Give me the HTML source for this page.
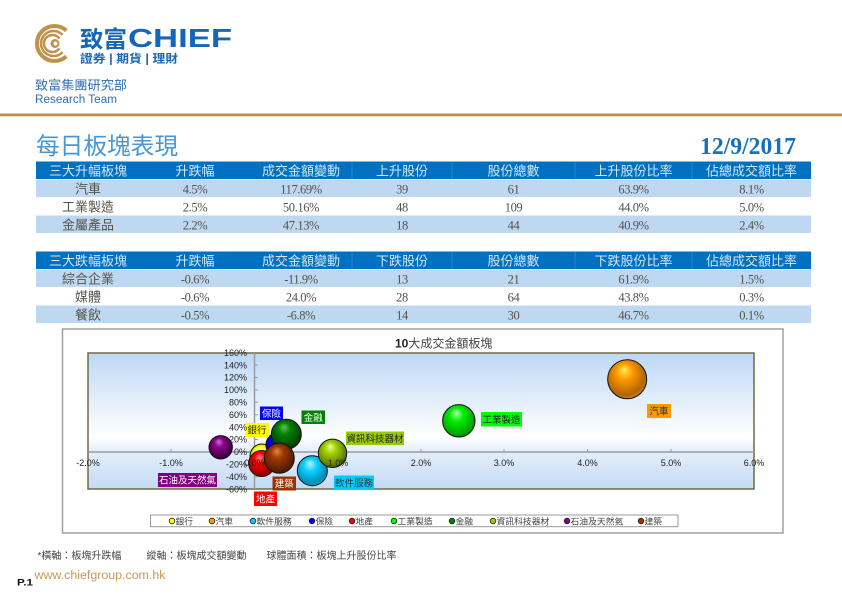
<!DOCTYPE html>
<html><head><meta charset="utf-8"><style>
html,body{margin:0;padding:0;background:#fff;}
svg{display:block;}
.cjk{font-family:"Liberation Sans","Noto Sans CJK TC",sans-serif;}
.ser{font-family:"Liberation Serif","Noto Sans CJK TC",serif;}
.sans{font-family:"Liberation Sans",sans-serif;}
</style></head><body>
<svg width="842" height="595" viewBox="0 0 842 595" xmlns="http://www.w3.org/2000/svg">
<defs>
<linearGradient id="bg" x1="0" y1="0" x2="0" y2="1">
<stop offset="0" stop-color="#bcd8f5"/><stop offset="0.62" stop-color="#ffffff"/><stop offset="0.72" stop-color="#e4eefb"/><stop offset="1" stop-color="#c3dbf5"/>
</linearGradient>
<radialGradient id="gY" cx="0.45" cy="0.42" r="0.6" fx="0.42" fy="0.25"><stop offset="0" stop-color="#ffffb0"/><stop offset="0.35" stop-color="#ffff00"/><stop offset="0.85" stop-color="#b0a800"/><stop offset="1" stop-color="#807800"/></radialGradient>
<radialGradient id="gO" cx="0.45" cy="0.42" r="0.6" fx="0.42" fy="0.25"><stop offset="0" stop-color="#ffee55"/><stop offset="0.35" stop-color="#ff9900"/><stop offset="0.85" stop-color="#b06400"/><stop offset="1" stop-color="#c88030"/></radialGradient>
<radialGradient id="gC" cx="0.45" cy="0.42" r="0.6" fx="0.42" fy="0.25"><stop offset="0" stop-color="#b8f6ff"/><stop offset="0.35" stop-color="#10d0ff"/><stop offset="0.85" stop-color="#0090b8"/><stop offset="1" stop-color="#20a0c8"/></radialGradient>
<radialGradient id="gB" cx="0.45" cy="0.42" r="0.6" fx="0.42" fy="0.25"><stop offset="0" stop-color="#8080ff"/><stop offset="0.35" stop-color="#0000ff"/><stop offset="0.85" stop-color="#000098"/><stop offset="1" stop-color="#000070"/></radialGradient>
<radialGradient id="gR" cx="0.45" cy="0.42" r="0.6" fx="0.42" fy="0.25"><stop offset="0" stop-color="#ff8888"/><stop offset="0.35" stop-color="#ff0000"/><stop offset="0.85" stop-color="#a00000"/><stop offset="1" stop-color="#800000"/></radialGradient>
<radialGradient id="gG" cx="0.45" cy="0.42" r="0.6" fx="0.42" fy="0.25"><stop offset="0" stop-color="#b8ffb8"/><stop offset="0.35" stop-color="#00f000"/><stop offset="0.85" stop-color="#00a800"/><stop offset="1" stop-color="#009000"/></radialGradient>
<radialGradient id="gD" cx="0.45" cy="0.42" r="0.6" fx="0.42" fy="0.25"><stop offset="0" stop-color="#60c060"/><stop offset="0.35" stop-color="#008000"/><stop offset="0.85" stop-color="#004800"/><stop offset="1" stop-color="#003000"/></radialGradient>
<radialGradient id="gL" cx="0.45" cy="0.42" r="0.6" fx="0.42" fy="0.25"><stop offset="0" stop-color="#eeff88"/><stop offset="0.35" stop-color="#a0d000"/><stop offset="0.85" stop-color="#608000"/><stop offset="1" stop-color="#506800"/></radialGradient>
<radialGradient id="gP" cx="0.45" cy="0.42" r="0.6" fx="0.42" fy="0.25"><stop offset="0" stop-color="#d070d0"/><stop offset="0.35" stop-color="#880088"/><stop offset="0.85" stop-color="#480048"/><stop offset="1" stop-color="#380038"/></radialGradient>
<radialGradient id="gN" cx="0.45" cy="0.42" r="0.6" fx="0.42" fy="0.25"><stop offset="0" stop-color="#e08848"/><stop offset="0.35" stop-color="#a03800"/><stop offset="0.85" stop-color="#5a2000"/><stop offset="1" stop-color="#481800"/></radialGradient>
</defs>

<!-- Header logo -->
<g fill="none" stroke="#c0914a">
<path d="M66.3,56.4 A17.5,17.5 0 1 1 66.3,30.6" stroke-width="4"/>
<path d="M62.6,52.1 A12.5,12.5 0 1 1 62.6,34.9" stroke-width="2.5"/>
<path d="M59.4,48.4 A8.5,8.5 0 1 1 59.4,38.6" stroke-width="2.5"/>
</g>
<circle cx="55" cy="43.5" r="4.5" fill="#c0914a"/>
<circle cx="55.5" cy="43.5" r="2" fill="#fff"/>
<text x="80" y="47" class="cjk" font-size="23" font-weight="bold" fill="#1466b8" textLength="47" lengthAdjust="spacingAndGlyphs">致富</text>
<text x="128" y="47" class="sans" font-size="26" font-weight="bold" fill="#1466b8" textLength="104" lengthAdjust="spacingAndGlyphs">CHIEF</text>
<text x="80" y="62.5" class="cjk" font-size="11.5" font-weight="bold" fill="#1466b8" textLength="98" lengthAdjust="spacingAndGlyphs">證券 | 期貨 | 理財</text>
<text x="35" y="89.5" class="cjk" font-size="12.5" fill="#2e6db4" textLength="92" lengthAdjust="spacingAndGlyphs">致富集團研究部</text>
<text x="35" y="103" class="sans" font-size="11.5" fill="#2e6db4" textLength="82" lengthAdjust="spacingAndGlyphs">Research Team</text>
<rect x="0" y="113.5" width="842" height="2.6" fill="#c08f4a"/>
<rect x="0" y="116.1" width="842" height="0.8" fill="#ead9bd"/>

<!-- Title + date -->
<text x="36" y="154" class="cjk" font-size="23.5" fill="#4796d8" textLength="142" lengthAdjust="spacingAndGlyphs">每日板塊表現</text>
<text x="796" y="154" class="ser" font-size="24" font-weight="bold" fill="#1570c0" text-anchor="end" textLength="96" lengthAdjust="spacingAndGlyphs">12/9/2017</text>

<!-- Table 1 -->
<rect x="36" y="161.5" width="775" height="17.5" fill="#0070c0"/>
<rect x="36" y="179.5" width="775" height="17.5" fill="#bed8f1"/>
<rect x="36" y="215.5" width="775" height="17.5" fill="#bed8f1"/>
<g stroke="#3d8ad0" stroke-width="0.8"><line x1="352" y1="162" x2="352" y2="179"/><line x1="452" y1="162" x2="452" y2="179"/><line x1="575" y1="162" x2="575" y2="179"/><line x1="692" y1="162" x2="692" y2="179"/></g>
<g class="cjk" font-size="13" fill="#d6e6f6" text-anchor="middle">
<text x="88" y="175.4">三大升幅板塊</text><text x="195" y="175.4">升跌幅</text><text x="301" y="175.4">成交金額變動</text><text x="402" y="175.4">上升股份</text><text x="513.5" y="175.4">股份總數</text><text x="633.5" y="175.4">上升股份比率</text><text x="751.5" y="175.4">佔總成交額比率</text>
</g>
<g class="cjk" font-size="13" fill="#55524a" text-anchor="middle">
<text x="88" y="193.5">汽車</text><text x="88" y="211.5">工業製造</text><text x="88" y="229.5">金屬產品</text>
</g>
<g class="ser" font-size="12.5" fill="#55524a" text-anchor="middle" letter-spacing="-0.4">
<text x="195" y="193.5">4.5%</text><text x="301" y="193.5">117.69%</text><text x="402" y="193.5">39</text><text x="513.5" y="193.5">61</text><text x="633.5" y="193.5">63.9%</text><text x="751.5" y="193.5">8.1%</text>
<text x="195" y="211.5">2.5%</text><text x="301" y="211.5">50.16%</text><text x="402" y="211.5">48</text><text x="513.5" y="211.5">109</text><text x="633.5" y="211.5">44.0%</text><text x="751.5" y="211.5">5.0%</text>
<text x="195" y="229.5">2.2%</text><text x="301" y="229.5">47.13%</text><text x="402" y="229.5">18</text><text x="513.5" y="229.5">44</text><text x="633.5" y="229.5">40.9%</text><text x="751.5" y="229.5">2.4%</text>
</g>

<!-- Table 2 -->
<rect x="36" y="251.5" width="775" height="17.5" fill="#0070c0"/>
<rect x="36" y="269.5" width="775" height="17.5" fill="#bed8f1"/>
<rect x="36" y="305.5" width="775" height="17.5" fill="#bed8f1"/>
<g stroke="#3d8ad0" stroke-width="0.8"><line x1="352" y1="252" x2="352" y2="269"/><line x1="452" y1="252" x2="452" y2="269"/><line x1="575" y1="252" x2="575" y2="269"/><line x1="692" y1="252" x2="692" y2="269"/></g>
<g class="cjk" font-size="13" fill="#d6e6f6" text-anchor="middle">
<text x="88" y="265.4">三大跌幅板塊</text><text x="195" y="265.4">升跌幅</text><text x="301" y="265.4">成交金額變動</text><text x="402" y="265.4">下跌股份</text><text x="513.5" y="265.4">股份總數</text><text x="633.5" y="265.4">下跌股份比率</text><text x="751.5" y="265.4">佔總成交額比率</text>
</g>
<g class="cjk" font-size="13" fill="#55524a" text-anchor="middle">
<text x="88" y="283.5">綜合企業</text><text x="88" y="301.5">媒體</text><text x="88" y="319.5">餐飲</text>
</g>
<g class="ser" font-size="12.5" fill="#55524a" text-anchor="middle" letter-spacing="-0.4">
<text x="195" y="283.5">-0.6%</text><text x="301" y="283.5">-11.9%</text><text x="402" y="283.5">13</text><text x="513.5" y="283.5">21</text><text x="633.5" y="283.5">61.9%</text><text x="751.5" y="283.5">1.5%</text>
<text x="195" y="301.5">-0.6%</text><text x="301" y="301.5">24.0%</text><text x="402" y="301.5">28</text><text x="513.5" y="301.5">64</text><text x="633.5" y="301.5">43.8%</text><text x="751.5" y="301.5">0.3%</text>
<text x="195" y="319.5">-0.5%</text><text x="301" y="319.5">-6.8%</text><text x="402" y="319.5">14</text><text x="513.5" y="319.5">30</text><text x="633.5" y="319.5">46.7%</text><text x="751.5" y="319.5">0.1%</text>
</g>

<!-- Chart frame -->
<rect x="62.5" y="329" width="720.5" height="204" fill="#fff" stroke="#a0a0a0" stroke-width="1.5"/>
<text x="395" y="347.5" font-size="12" fill="#222"><tspan class="sans" font-weight="bold">10</tspan><tspan class="cjk" fill="#444">大成交金額板塊</tspan></text>

<!-- Plot area -->
<rect x="88" y="353" width="666" height="136" fill="url(#bg)" stroke="#6e6a45" stroke-width="1.5"/>
<line x1="88" y1="452" x2="754" y2="452" stroke="#9a9aa2" stroke-width="1.5"/>
<line x1="254.5" y1="353" x2="254.5" y2="489" stroke="#9a9aa2" stroke-width="1.5"/>
<g stroke="#9a9aa2" stroke-width="1">
<line x1="171" y1="449" x2="171" y2="452"/><line x1="338" y1="449" x2="338" y2="452"/><line x1="421" y1="449" x2="421" y2="452"/><line x1="504" y1="449" x2="504" y2="452"/><line x1="587.5" y1="449" x2="587.5" y2="452"/><line x1="671" y1="449" x2="671" y2="452"/>
<line x1="254.5" y1="365.1" x2="258" y2="365.1"/><line x1="254.5" y1="377.5" x2="258" y2="377.5"/><line x1="254.5" y1="389.9" x2="258" y2="389.9"/><line x1="254.5" y1="402.3" x2="258" y2="402.3"/><line x1="254.5" y1="414.7" x2="258" y2="414.7"/><line x1="254.5" y1="427.1" x2="258" y2="427.1"/><line x1="254.5" y1="439.5" x2="258" y2="439.5"/><line x1="254.5" y1="464.3" x2="258" y2="464.3"/><line x1="254.5" y1="476.7" x2="258" y2="476.7"/>
</g>

<!-- Bubbles -->
<g stroke="#111" stroke-width="1">
<circle cx="262" cy="456" r="12" fill="url(#gY)"/>
<circle cx="627.2" cy="379.2" r="19.5" fill="url(#gO)"/>
<circle cx="312.3" cy="470.7" r="15" fill="url(#gC)"/>
<circle cx="279" cy="445" r="13" fill="url(#gB)"/>
<circle cx="261.7" cy="463.5" r="13" fill="url(#gR)"/>
<circle cx="458.8" cy="420.8" r="16.2" fill="url(#gG)"/>
<circle cx="286.3" cy="434.3" r="15" fill="url(#gD)"/>
<circle cx="332.5" cy="453.3" r="14.2" fill="url(#gL)"/>
<circle cx="220.7" cy="447.3" r="11.7" fill="url(#gP)"/>
<circle cx="279.3" cy="458.3" r="15" fill="url(#gN)"/>
</g>

<!-- Data labels -->
<g class="cjk" font-size="9.5" text-anchor="middle">
<rect x="260" y="406.5" width="23" height="13.5" fill="#0000ff"/><text x="271.5" y="416.9" fill="#fff">保險</text>
<rect x="245" y="423" width="24" height="14" fill="#ffff00"/><text x="257" y="433.6" fill="#222">銀行</text>
<rect x="301.5" y="410.5" width="23.5" height="13.5" fill="#008000"/><text x="313.2" y="420.9" fill="#fff">金融</text>
<rect x="346" y="431.5" width="58" height="13.5" fill="#99cc00"/><text x="375" y="441.9" fill="#222">資訊科技器材</text>
<rect x="158" y="473" width="59" height="14" fill="#800080"/><text x="187.5" y="483.6" fill="#fff">石油及天然氣</text>
<rect x="272.5" y="476.5" width="23.5" height="14" fill="#993300"/><text x="284.2" y="487.1" fill="#fff">建築</text>
<rect x="254" y="491.5" width="23" height="14.5" fill="#ff0000"/><text x="265.5" y="502.3" fill="#fff">地產</text>
<rect x="334" y="475.5" width="40" height="14.5" fill="#00ccff"/><text x="354" y="486.3" fill="#333">軟件服務</text>
<rect x="481" y="412" width="41" height="14.5" fill="#00ff00"/><text x="501.5" y="422.8" fill="#222">工業製造</text>
<rect x="647" y="404" width="24" height="14" fill="#ff9900"/><text x="659" y="414.6" fill="#333">汽車</text>
</g>

<!-- Axis labels -->
<g class="sans" font-size="9" fill="#222" text-anchor="end">
<text x="247" y="355.9">160%</text><text x="247" y="368.3">140%</text><text x="247" y="380.7">120%</text><text x="247" y="393.1">100%</text><text x="247" y="405.5">80%</text><text x="247" y="417.9">60%</text><text x="247" y="430.3">40%</text><text x="247" y="442.7">20%</text><text x="247" y="455.1">0%</text><text x="247" y="467.5">-20%</text><text x="247" y="479.9">-40%</text><text x="247" y="492.3">-60%</text>
</g>
<g class="sans" font-size="9" fill="#222" text-anchor="middle">
<text x="88" y="465.9">-2.0%</text><text x="171" y="465.9">-1.0%</text><text x="254.5" y="465.9">0.0%</text><text x="338" y="465.9">1.0%</text><text x="421" y="465.9">2.0%</text><text x="504" y="465.9">3.0%</text><text x="587.5" y="465.9">4.0%</text><text x="671" y="465.9">5.0%</text><text x="754" y="465.9">6.0%</text>
</g>

<!-- Legend -->
<rect x="150.5" y="515" width="527.5" height="11.7" fill="#fff" stroke="#999" stroke-width="1"/>
<g stroke="#222" stroke-width="0.8">
<circle cx="172" cy="521" r="2.8" fill="#ffff00"/><circle cx="212" cy="521" r="2.8" fill="#ff9900"/><circle cx="253" cy="521" r="2.8" fill="#00ccff"/><circle cx="312" cy="521" r="2.8" fill="#0000ff"/><circle cx="352" cy="521" r="2.8" fill="#ff0000"/><circle cx="394" cy="521" r="2.8" fill="#00ff00"/><circle cx="452" cy="521" r="2.8" fill="#008000"/><circle cx="493" cy="521" r="2.8" fill="#99cc00"/><circle cx="567" cy="521" r="2.8" fill="#800080"/><circle cx="641" cy="521" r="2.8" fill="#993300"/>
</g>
<g class="cjk" font-size="8.8" fill="#444">
<text x="175.5" y="524.5">銀行</text><text x="215.5" y="524.5">汽車</text><text x="256.5" y="524.5">軟件服務</text><text x="315.5" y="524.5">保險</text><text x="355.5" y="524.5">地產</text><text x="397.5" y="524.5">工業製造</text><text x="455.5" y="524.5">金融</text><text x="496.5" y="524.5">資訊科技器材</text><text x="570.5" y="524.5">石油及天然氣</text><text x="644.5" y="524.5">建築</text>
</g>

<!-- Footer -->
<g class="cjk" font-size="10" fill="#444">
<text x="37.5" y="558.8">*橫軸：板塊升跌幅</text>
<text x="146.5" y="558.8">縱軸：板塊成交額變動</text>
<text x="266.5" y="558.8">球體面積：板塊上升股份比率</text>
</g>
<text x="17" y="585.5" class="sans" font-size="9.5" font-weight="bold" fill="#111" textLength="16" lengthAdjust="spacingAndGlyphs">P.1</text>
<text x="34.5" y="579" class="sans" font-size="12.4" fill="#c49a56" textLength="131" lengthAdjust="spacingAndGlyphs">www.chiefgroup.com.hk</text>
</svg>
</body></html>
